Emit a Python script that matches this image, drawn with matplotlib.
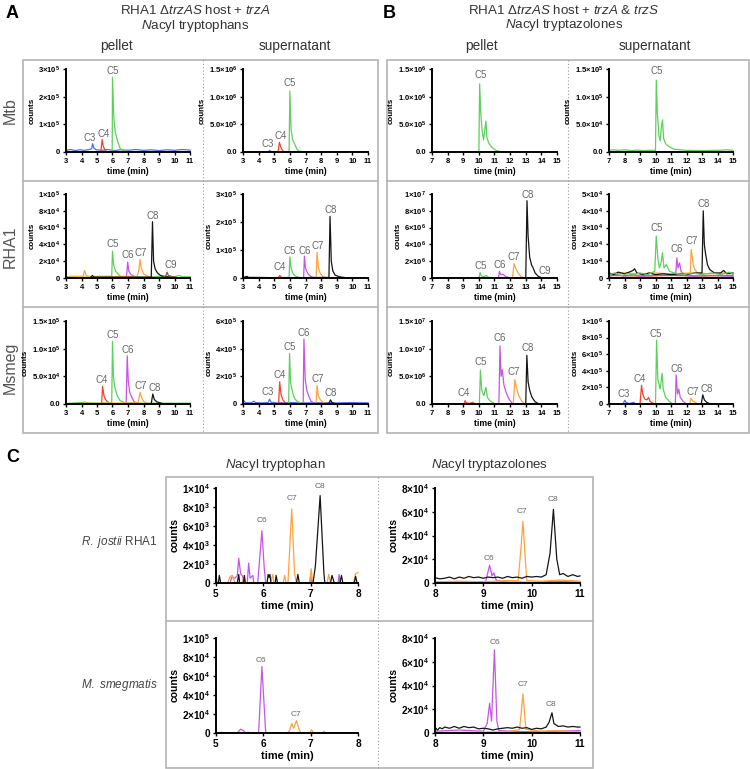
import matplotlib.pyplot as plt
from matplotlib.patches import Rectangle

plt.rcParams['font.family'] = ['Liberation Sans', 'DejaVu Sans']
plt.rcParams['mathtext.fontset'] = 'custom'
plt.rcParams['mathtext.rm'] = 'Liberation Sans'
plt.rcParams['mathtext.it'] = 'Liberation Sans:italic'
plt.rcParams['mathtext.bf'] = 'Liberation Sans:bold'

W, H = 750, 769

colors = {'C3': '#4f6bed', 'C4': '#f2412c', 'C5': '#5cd05c', 'C6': '#c655e6',
          'C7': '#ffa23f', 'C8': '#151515', 'C9': '#8b5e2b', 'red': '#f2412c'}

# ---------------- panel A : N-acyl tryptophans (time, counts) ----------------
A_mtb_pel = {
    'C3': [(3.0, 6e3), (3.3, 9e3), (3.6, 5e3), (3.9, 8e3), (4.2, 6e3), (4.5, 9e3), (4.65, 1.2e4), (4.72, 3.0e4),
           (4.8, 1.4e4), (4.95, 8e3), (5.3, 6e3), (5.7, 9e3), (6.1, 5e3), (6.5, 8e3), (7.0, 6e3), (7.5, 9e3),
           (8.0, 6e3), (8.5, 8e3), (9.0, 5e3), (9.5, 8e3), (10.0, 6e3), (10.5, 9e3), (11.0, 7e3)],
    'C4': [(5.25, 2e3), (5.33, 4.5e4), (5.4, 2.2e4), (5.5, 8e3), (5.6, 2e3)],
    'C5': [(5.9, 1e3), (5.98, 2e3), (6.0, 2.7e5), (6.08, 1.3e5), (6.18, 7e4), (6.28, 5e4), (6.35, 3.5e4),
           (6.5, 1.2e4), (6.7, 5e3), (7.0, 2e3)],
}
A_mtb_pel_lab = [('C3', 4.55, 3.3e4), ('C4', 5.45, 4.8e4), ('C5', 6.0, 2.75e5)]

A_mtb_sup = {
    'C3': [(3.0, 4e3), (3.5, 6e3), (4.0, 4e3), (4.5, 5e3), (4.65, 8e3), (4.7, 2.8e4), (4.8, 1e4), (5.0, 5e3),
           (5.5, 4e3), (6.5, 5e3), (7.5, 3e3), (8.5, 4e3), (9.5, 3e3), (10.5, 4e3), (11.0, 3e3)],
    'C4': [(5.25, 3e3), (5.33, 1.75e5), (5.42, 9e4), (5.5, 4e4), (5.6, 1e4), (5.7, 2e3)],
    'C5': [(5.95, 3e3), (6.0, 1.1e6), (6.08, 4e5), (6.18, 2.2e5), (6.28, 1.6e5), (6.35, 1.2e5), (6.45, 5e4),
           (6.6, 1.5e4), (6.9, 4e3)],
}
A_mtb_sup_lab = [('C3', 4.55, 6e4), ('C4', 5.4, 1.9e5), ('C5', 6.0, 1.15e6)]

A_rha_pel = {
    'C5': [(3.0, 1.5e3), (3.6, 2e3), (4.3, 1e3), (5.0, 2e3), (5.95, 2e3), (6.0, 3.2e4), (6.08, 1.5e4),
           (6.2, 8e3), (6.35, 5e3), (6.5, 2e3), (7.0, 1.5e3), (8.0, 1e3), (9.0, 2e3), (10.0, 1.5e3),
           (10.3, 3e3), (10.5, 1.5e3), (11.0, 1.5e3)],
    'C6': [(6.9, 1e3), (6.98, 1.9e4), (7.05, 8e3), (7.2, 4e3), (7.4, 2e3), (7.6, 1e3)],
    'C7': [(3.0, 1e3), (4.1, 2e3), (4.2, 9e3), (4.3, 3e3), (4.6, 1e3), (7.6, 2e3), (7.7, 1e4), (7.78, 2.2e4),
           (7.85, 1.2e4), (8.0, 5e3), (8.3, 2e3), (8.6, 1e3)],
    'C8': [(4.6, 1e3), (4.7, 3e3), (4.8, 1e3), (8.5, 1e3), (8.58, 6.7e4), (8.65, 2e4), (8.75, 1.1e4),
           (8.9, 6e3), (9.1, 3e3), (9.4, 1.5e3), (9.8, 1e3)],
    'C9': [(9.3, 1e3), (9.45, 3e3), (9.52, 7e3), (9.6, 3e3), (9.8, 2e3), (10.1, 1e3)],
}
A_rha_pel_lab = [('C5', 6.0, 3.4e4), ('C6', 7.0, 2.1e4), ('C7', 7.8, 2.4e4), ('C8', 8.6, 6.8e4), ('C9', 9.75, 9e3)]

A_rha_sup = {
    'C4': [(5.25, 1e3), (5.35, 9e3), (5.45, 3e3)],
    'C5': [(3.0, 2e3), (4.5, 1e3), (5.95, 2e3), (6.0, 7.5e4), (6.08, 3.5e4), (6.2, 1.5e4), (6.4, 5e3),
           (6.7, 1e3)],
    'C6': [(6.88, 2e3), (6.93, 7.8e4), (7.0, 3.5e4), (7.15, 1.5e4), (7.35, 5e3), (7.6, 1e3)],
    'C7': [(7.68, 2e3), (7.74, 9.2e4), (7.82, 4e4), (7.95, 1.5e4), (8.15, 4e3), (8.4, 1e3)],
    'C8': [(3.0, 1e3), (3.25, 6e3), (3.35, 2e3), (4.0, 2e3), (5.0, 1e3), (8.5, 2e3), (8.57, 2.2e5),
           (8.65, 6e4), (8.75, 2.5e4), (8.9, 1e4), (9.2, 4e3), (9.6, 1e3)],
}
A_rha_sup_lab = [('C4', 5.35, 2.2e4), ('C5', 6.0, 8e4), ('C6', 6.95, 8e4), ('C7', 7.75, 9.5e4), ('C8', 8.6, 2.25e5)]

A_msm_pel = {
    'C4': [(3.0, 500), (5.3, 1e3), (5.36, 3.2e4), (5.45, 1.5e4), (5.55, 8e3), (5.75, 2e3), (6.0, 500)],
    'C5': [(3.0, 1e3), (4.2, 3e3), (4.5, 2e3), (5.0, 1.5e3), (5.95, 2e3), (6.0, 1.13e5), (6.06, 5e4),
           (6.15, 3e4), (6.3, 1.5e4), (6.5, 6e3), (6.8, 2e3), (8.0, 1.5e3), (9.5, 1.5e3), (11.0, 1.5e3)],
    'C6': [(6.88, 1e3), (6.95, 8.7e4), (7.02, 4e4), (7.12, 2e4), (7.25, 1.2e4), (7.4, 4e3), (7.7, 1e3)],
    'C7': [(4.1, 1e3), (4.2, 4e3), (4.3, 1e3), (7.65, 2e3), (7.78, 2.1e4), (7.88, 1.2e4), (8.0, 5e3), (8.3, 1e3)],
    'C8': [(8.5, 1e3), (8.6, 1.8e4), (8.7, 8e3), (8.85, 4e3), (9.2, 1e3)],
}
A_msm_pel_lab = [('C4', 5.3, 3.5e4), ('C5', 6.0, 1.15e5), ('C6', 7.0, 8.9e4), ('C7', 7.8, 2.3e4), ('C8', 8.7, 2e4)]

A_msm_sup = {
    'C3': [(3.0, 1e4), (3.05, 2.5e4), (3.15, 1e4), (3.5, 8e3), (3.72, 2e4), (3.8, 1e4), (4.2, 8e3), (4.62, 1e4),
           (4.7, 3.5e4), (4.8, 1.2e4), (5.2, 8e3), (6.0, 1e4), (7.0, 8e3), (8.0, 1e4), (9.0, 8e3), (10.0, 1e4),
           (11.0, 8e3)],
    'C4': [(5.28, 1e4), (5.35, 1.6e5), (5.43, 7e4), (5.55, 3e4), (5.7, 1e4)],
    'C5': [(5.92, 1e4), (5.98, 3.65e5), (6.05, 1.5e5), (6.18, 8e4), (6.3, 4e4), (6.5, 1.5e4), (6.8, 5e3)],
    'C6': [(6.85, 1e4), (6.9, 4.7e5), (6.98, 1.8e5), (7.08, 1e5), (7.2, 6e4), (7.35, 2e4), (7.6, 5e3)],
    'C7': [(7.68, 1e4), (7.74, 1.35e5), (7.82, 6e4), (7.95, 3e4), (8.15, 1e4), (8.4, 3e3)],
    'C8': [(8.5, 5e3), (8.6, 3e4), (8.7, 1e4), (8.9, 3e3)],
}
A_msm_sup_lab = [('C3', 4.6, 5e4), ('C4', 5.35, 1.7e5), ('C5', 6.0, 3.75e5), ('C6', 6.9, 4.8e5),
                 ('C7', 7.8, 1.45e5), ('C8', 8.6, 4e4)]

# ---------------- panel B : N-acyl tryptazolones ----------------
B_mtb_pel = {
    'C5': [(10.0, 0), (10.05, 1.23e6), (10.12, 7e5), (10.22, 3.5e5), (10.3, 2.2e5), (10.38, 4e5), (10.45, 5.6e5),
           (10.52, 2.5e5), (10.65, 1.5e5), (10.85, 8e4), (11.1, 3e4), (11.4, 5e3), (11.7, 0)],
}
B_mtb_pel_lab = [('C5', 10.1, 1.3e6)]

B_mtb_sup = {
    'C5': [(7.0, 3e3), (7.3, 4e3), (7.6, 3e3), (8.0, 4e3), (8.4, 2.5e3), (8.8, 3.5e3), (9.2, 2.5e3), (9.6, 3e3),
           (10.0, 3e3), (10.05, 1.3e5), (10.12, 7e4), (10.22, 3e4), (10.3, 2e4), (10.38, 4.5e4), (10.45, 5.8e4),
           (10.52, 2.5e4), (10.65, 1.5e4), (10.85, 1e4), (11.2, 5e3), (12.0, 3e3), (13.0, 2.5e3), (14.0, 3e3),
           (14.6, 4e3), (15.0, 3e3)],
}
B_mtb_sup_lab = [('C5', 10.1, 1.37e5)]

B_rha_pel = {
    'C5': [(10.0, 0), (10.08, 6.5e5), (10.15, 2.5e5), (10.3, 1.5e5), (10.48, 3e5), (10.6, 1e5), (10.9, 0)],
    'C6': [(11.25, 0), (11.32, 8e5), (11.4, 4e5), (11.55, 4.5e5), (11.7, 2e5), (11.95, 0)],
    'C7': [(12.15, 0), (12.25, 1.7e6), (12.35, 1.2e6), (12.5, 6e5), (12.7, 1.5e5), (12.9, 0)],
    'C8': [(13.0, 0), (13.08, 9.2e6), (13.15, 5e6), (13.25, 2.5e6), (13.38, 1.5e6), (13.45, 1.3e6), (13.6, 6e5),
           (13.8, 2e5), (14.0, 5e4), (14.2, 0)],
}
B_rha_pel_lab = [('C5', 10.1, 8.5e5), ('C6', 11.35, 1e6), ('C7', 12.2, 1.9e6), ('C8', 13.1, 9.3e6),
                 ('C9', 14.2, 2e5)]

B_rha_sup = {
    'red': [(7.0, 1.5e3), (9.0, 1.2e3), (11.0, 1.5e3), (13.0, 1.2e3), (15.0, 1.5e3)],
    'C6': [(7.0, 1e3), (7.5, 2e3), (8.0, 1e3), (8.5, 2e3), (9.0, 1e3), (10.0, 1.5e3), (11.3, 2e3), (11.38, 1.2e4),
           (11.45, 6e3), (11.55, 9e3), (11.65, 4e3), (11.9, 1.5e3), (12.5, 1e3), (13.5, 1.5e3), (15.0, 1e3)],
    'C7': [(7.0, 2.5e3), (8.0, 3e3), (9.0, 2.5e3), (10.0, 3e3), (11.0, 2.5e3), (12.25, 3e3), (12.3, 1.7e4),
           (12.38, 1.2e4), (12.45, 7e3), (12.55, 5e3), (12.7, 3e3), (13.5, 2.5e3), (14.5, 3e3), (15.0, 2.5e3)],
    'C8': [(7.0, 3e3), (7.3, 2e3), (7.6, 3.5e3), (8.0, 2.5e3), (8.3, 3.5e3), (8.55, 4.5e3), (8.65, 5.5e3),
           (8.8, 3e3), (9.2, 2e3), (9.6, 3e3), (10.0, 2e3), (10.5, 2.5e3), (11.0, 2e3), (11.5, 2.5e3), (12.0, 2e3),
           (12.5, 3e3), (13.0, 3e3), (13.08, 4e4), (13.15, 2e4), (13.22, 1.5e4), (13.35, 8e3), (13.5, 5e3),
           (13.8, 3e3), (14.2, 3e3), (14.4, 4.5e3), (14.6, 2.5e3), (15.0, 3e3)],
    'C5': [(7.0, 2e3), (7.4, 3e3), (7.8, 1.5e3), (8.2, 2.5e3), (8.6, 2e3), (9.0, 3e3), (9.5, 2e3), (9.95, 4e3),
           (10.05, 2.5e4), (10.15, 1.2e4), (10.25, 6e3), (10.38, 1e4), (10.45, 1.5e4), (10.55, 6e3), (10.7, 8e3),
           (10.9, 4e3), (11.2, 3e3), (11.8, 2e3), (12.4, 3e3), (13.0, 2e3), (13.6, 3e3), (14.2, 2e3),
           (14.8, 3.5e3), (15.0, 2e3)],
}
B_rha_sup_lab = [('C5', 10.1, 2.7e4), ('C6', 11.4, 1.4e4), ('C7', 12.35, 1.9e4), ('C8', 13.1, 4.1e4)]

B_msm_pel = {
    'C4': [(9.05, 0), (9.12, 6e5), (9.2, 2e5), (9.4, 1e5), (9.6, 3e5), (9.7, 1e5), (9.9, 0)],
    'C5': [(10.03, 0), (10.1, 6.1e6), (10.18, 2.5e6), (10.32, 1.5e6), (10.45, 3e6), (10.55, 1.2e6), (10.7, 6e5),
           (10.9, 2e5), (11.1, 0)],
    'C6': [(11.28, 0), (11.35, 1.05e7), (11.42, 5e6), (11.5, 6.2e6), (11.6, 3.5e6), (11.75, 2e6), (11.95, 8e5),
           (12.15, 1e5), (12.3, 0)],
    'C7': [(12.2, 0), (12.3, 4.4e6), (12.4, 3e6), (12.55, 1.5e6), (12.75, 5e5), (12.95, 0)],
    'C8': [(13.0, 0), (13.07, 8.8e6), (13.15, 4e6), (13.25, 2.5e6), (13.4, 1.2e6), (13.6, 4e5), (13.85, 0)],
}
B_msm_pel_lab = [('C4', 9.0, 1e6), ('C5', 10.1, 6.6e6), ('C6', 11.35, 1.1e7), ('C7', 12.25, 4.9e6),
                 ('C8', 13.1, 9.3e6)]

B_msm_sup = {
    'C3': [(7.9, 0), (8.02, 4.5e4), (8.1, 2e4), (8.3, 5e3), (8.6, 2e4), (8.7, 5e3), (8.9, 0)],
    'C4': [(9.0, 0), (9.1, 2.25e5), (9.18, 1.2e5), (9.3, 6e4), (9.45, 5e4), (9.55, 8e4), (9.65, 3e4), (9.85, 1e4),
           (10.0, 0)],
    'C5': [(10.0, 0), (10.07, 7.7e5), (10.15, 3e5), (10.3, 1.8e5), (10.42, 3.7e5), (10.5, 1.8e5), (10.65, 8e4),
           (10.9, 3e4), (11.1, 0)],
    'C6': [(11.28, 0), (11.33, 3.5e5), (11.42, 1.2e5), (11.5, 1.8e5), (11.6, 8e4), (11.8, 3e4), (12.0, 0)],
    'C7': [(12.2, 0), (12.28, 7e4), (12.38, 4e4), (12.55, 2e4), (12.75, 0)],
    'C8': [(12.95, 0), (13.05, 1.1e5), (13.15, 5e4), (13.3, 2e4), (13.5, 5e3), (13.7, 0)],
}
B_msm_sup_lab = [('C3', 7.95, 6e4), ('C4', 9.0, 2.4e5), ('C5', 10.0, 7.8e5), ('C6', 11.4, 3.6e5),
                 ('C7', 12.4, 8e4), ('C8', 13.3, 1.2e5)]

# ---------------- panel C ----------------
C_rha_trp = {
    'C6': [(5.0, 0), (5.3, 0), (5.33, 600), (5.4, 500), (5.45, 800), (5.48, 2600), (5.52, 1000), (5.56, 700),
           (5.6, 0), (5.66, 0), (5.69, 2100), (5.72, 500), (5.78, 800), (5.8, 0), (5.88, 0), (5.93, 3000),
           (5.97, 5500), (6.02, 1500), (6.05, 0), (6.98, 0), (7.0, 800), (7.02, 0), (7.58, 0), (7.6, 900),
           (7.62, 0), (8.0, 0)],
    'C7': [(5.0, 800), (5.03, 0), (5.25, 0), (5.3, 700), (5.35, 800), (5.4, 0), (5.55, 0), (5.58, 600), (5.6, 0),
           (6.15, 0), (6.2, 900), (6.22, 0), (6.42, 0), (6.45, 800), (6.48, 0), (6.52, 0), (6.6, 7800),
           (6.66, 1000), (6.7, 0), (6.98, 0), (7.01, 1500), (7.04, 0), (7.35, 0), (7.38, 900), (7.42, 0),
           (7.9, 0), (7.95, 1000), (8.0, 1100)],
    'C8': [(5.05, 0), (5.07, 800), (5.1, 0), (5.45, 0), (5.48, 900), (5.5, 0), (5.58, 0), (5.6, 800), (5.62, 0),
           (6.08, 0), (6.1, 900), (6.12, 600), (6.14, 900), (6.16, 0), (6.25, 0), (6.27, 800), (6.3, 0),
           (6.7, 0), (6.73, 900), (6.76, 0), (7.05, 0), (7.1, 1800), (7.2, 9200), (7.28, 1000), (7.3, 0),
           (7.42, 0), (7.45, 800), (7.5, 0), (7.62, 0), (7.65, 800), (7.68, 0), (7.92, 0), (7.95, 700),
           (7.98, 0)],
}
C_rha_trp_lab = [('C6', 5.98, 6.2e3), ('C7', 6.6, 8.5e3), ('C8', 7.2, 9.8e3)]

C_rha_tzl = {
    'red': [(8.0, 300), (9.5, 400), (11.0, 300)],
    'C6': [(8.0, 500), (8.6, 800), (9.05, 1000), (9.1, 1e4), (9.13, 1.5e4), (9.18, 6e3), (9.22, 8.5e3),
           (9.27, 2e3), (9.5, 800), (10.0, 500), (10.5, 1.5e3), (10.8, 1e3), (11.0, 800)],
    'C7': [(8.0, 1e3), (8.5, 1.5e3), (9.0, 1e3), (9.5, 2e3), (9.72, 2e3), (9.78, 3e4), (9.82, 5.2e4),
           (9.86, 2.5e4), (9.9, 2e3), (10.2, 1.5e3), (10.6, 2.5e3), (11.0, 1.5e3)],
    'C8': [(8.0, 4500), (8.1, 3500), (8.2, 4000), (8.3, 5000), (8.4, 3500), (8.5, 5000), (8.6, 4000),
           (8.7, 5500), (8.8, 4500), (8.9, 5000), (9.0, 4000), (9.1, 5000), (9.2, 4500), (9.3, 5000),
           (9.4, 4000), (9.5, 5500), (9.6, 4500), (9.7, 5000), (9.8, 4000), (9.9, 5500), (10.0, 5000),
           (10.1, 5500), (10.2, 5000), (10.3, 7000), (10.38, 2.5e4), (10.45, 6.2e4), (10.52, 2e4), (10.58, 7000),
           (10.65, 8000), (10.75, 5500), (10.85, 7000), (10.95, 5500), (11.0, 6000)],
}
C_rha_tzl_lab = [('C6', 9.12, 1.8e4), ('C7', 9.8, 5.7e4), ('C8', 10.45, 6.7e4)]

C_msm_trp = {
    'C6': [(5.0, 500), (5.1, 0), (5.12, 800), (5.2, 0), (5.45, 0), (5.52, 4000), (5.58, 2500), (5.62, 0),
           (5.68, 800), (5.72, 0), (5.9, 0), (5.97, 7e4), (6.05, 0), (8.0, 0)],
    'C7': [(6.5, 0), (6.55, 2000), (6.6, 1e4), (6.64, 5000), (6.7, 1.3e4), (6.76, 3000), (6.8, 0), (6.98, 0),
           (7.02, 3500), (7.06, 0), (7.25, 0), (7.28, 2000), (7.31, 0)],
}
C_msm_trp_lab = [('C6', 5.95, 7.3e4), ('C7', 6.68, 1.6e4)]

C_msm_tzl = {
    'red': [(8.0, 200), (9.5, 300), (11.0, 200)],
    'C6': [(8.0, 1500), (8.5, 2500), (9.0, 1500), (9.08, 8000), (9.13, 2.5e4), (9.17, 1e4), (9.23, 7e4),
           (9.28, 1e4), (9.32, 2000), (9.6, 1500), (10.0, 1000), (10.5, 1500), (11.0, 2000)],
    'C7': [(8.0, 500), (9.0, 800), (9.5, 1000), (9.75, 3000), (9.82, 3.3e4), (9.88, 3000), (10.2, 1500),
           (10.5, 2000), (11.0, 1000)],
    'C8': [(8.0, 5000), (8.05, 2500), (8.1, 4500), (8.15, 3500), (8.2, 5000), (8.3, 4000), (8.4, 5500),
           (8.5, 4000), (8.6, 5500), (8.7, 4500), (8.8, 5000), (8.9, 3500), (9.0, 4000), (9.1, 3500),
           (9.2, 2500), (9.3, 3500), (9.4, 4000), (9.5, 4500), (9.6, 4000), (9.7, 5000), (9.8, 4000),
           (9.9, 4500), (10.0, 3000), (10.1, 4000), (10.2, 3500), (10.3, 5000), (10.36, 9000), (10.42, 1.7e4),
           (10.46, 8000), (10.55, 5500), (10.65, 6000), (10.75, 5000), (10.85, 5500), (10.95, 5000), (11.0, 5000)],
}
C_msm_tzl_lab = [('C6', 9.23, 7.3e4), ('C7', 9.82, 3.8e4), ('C8', 10.4, 2.1e4)]


def sci(v, dec):
    # prism-style "3×10^5" labels
    if v == 0:
        return '0.0' if dec else '0'
    e = len(str(int(v))) - 1
    m = v / 10 ** e
    mtxt = ('%.1f' % m) if dec else ('%d' % round(m))
    return r'$\mathbf{%s{\times}10^{%d}}$' % (mtxt, e)


fig = plt.figure(figsize=(W / 100, H / 100), dpi=100)

# background frame / layout in pixel units
ov = fig.add_axes([0, 0, 1, 1])
ov.set_xlim(0, W)
ov.set_ylim(H, 0)
ov.axis('off')
box_c = '#b3b3b3'
for (x0, y0, x1, y1) in [(23, 60, 378, 433), (387, 60, 749, 433), (166, 477, 593, 768)]:
    ov.add_patch(Rectangle((x0, y0), x1 - x0, y1 - y0, fill=False, ec=box_c, lw=1.2))
for (x0, x1) in [(23, 378), (387, 749)]:
    for y in (181, 307):
        ov.plot([x0, x1], [y, y], color=box_c, lw=1.2)
ov.plot([166, 593], [621, 621], color=box_c, lw=1.2)
for (x, y0, y1) in [(203, 60, 433), (568, 60, 433), (378, 477, 768)]:
    ov.plot([x, x], [y0, y1], color='#9a9a9a', lw=0.8, ls=(0, (1, 2)))

txt_c = '#333333'
ov.text(6, 13, 'A', fontsize=13, fontweight='bold', va='center', ha='left')
ov.text(383, 13, 'B', fontsize=13, fontweight='bold', va='center', ha='left')
ov.text(6, 457, 'C', fontsize=13, fontweight='bold', va='center', ha='left')
ov.text(195, 10, r'RHA1 Δ$\mathit{trzAS}$ host + $\mathit{trzA}$', fontsize=9.6, ha='center', va='center',
        color=txt_c)
ov.text(195, 26, r'$\mathit{N}$acyl tryptophans', fontsize=9.6, ha='center', va='center', color=txt_c)
ov.text(564, 10, r'RHA1 Δ$\mathit{trzAS}$ host + $\mathit{trzA}$ & $\mathit{trzS}$', fontsize=9.6, ha='center',
        va='center', color=txt_c)
ov.text(564, 25, r'$\mathit{N}$acyl tryptazolones', fontsize=9.6, ha='center', va='center', color=txt_c)
for x, s in [(116, 'pellet'), (295, 'supernatant'), (481, 'pellet'), (655, 'supernatant')]:
    ov.text(x, 46, s, fontsize=9.8, ha='center', va='center', color=txt_c)
for y, s in [(111, 'Mtb'), (247, 'RHA1'), (368, 'Msmeg')]:
    ov.text(10, y, s, fontsize=11.5, rotation=90, ha='center', va='center', color='#555555')
ov.text(275, 465, r'$\mathit{N}$acyl tryptophan', fontsize=9.5, ha='center', va='center', color=txt_c)
ov.text(490, 465, r'$\mathit{N}$acyl tryptazolones', fontsize=9.5, ha='center', va='center', color=txt_c)
ov.text(158, 542, r'$\mathit{R.\ jostii}$ RHA1', fontsize=8.5, ha='right', va='center', color='#444444')
ov.text(158, 685, r'$\mathit{M.\ smegmatis}$', fontsize=8.5, ha='right', va='center', color='#444444')


def chrom(rect, traces, labels, xlim, ymax, ystep, dec, fs=5.5, lab_fs=7):
    x0, y0, x1, y1 = rect
    ax = fig.add_axes([x0 / W, 1 - y1 / H, (x1 - x0) / W, (y1 - y0) / H])
    for key, pts in traces.items():
        ax.plot([p[0] for p in pts], [p[1] for p in pts], color=colors[key], lw=0.9, clip_on=False)
    for s, x, y in labels:
        ax.text(x, y, s, fontsize=lab_fs, color='#666666', ha='center', va='bottom')
    ax.set_xlim(*xlim)
    ax.set_ylim(0, ymax)
    ax.set_xticks(range(xlim[0], xlim[1] + 1))
    yt = [ystep * i for i in range(int(round(ymax / ystep)) + 1)]
    ax.set_yticks(yt)
    ax.set_yticklabels([sci(v, dec) for v in yt])
    for sp in ('top', 'right'):
        ax.spines[sp].set_visible(False)
    for sp in ('left', 'bottom'):
        ax.spines[sp].set_linewidth(1.4)
    ax.tick_params(direction='out', length=2.5, width=1, labelsize=fs, pad=1.5)
    for t in ax.get_xticklabels() + ax.get_yticklabels():
        t.set_fontweight('bold')
    ax.set_xlabel('time (min)', fontsize=fs + 0.7, fontweight='bold', labelpad=2)
    ax.set_ylabel('counts', fontsize=fs + 0.3, fontweight='bold', labelpad=2)
    ax.patch.set_alpha(0)
    return ax


rows = [(69, 152), (194, 278), (321, 404)]
chrom((66, rows[0][0], 190, rows[0][1]), A_mtb_pel, A_mtb_pel_lab, (3, 11), 3e5, 1e5, False)
chrom((243, rows[0][0], 368, rows[0][1]), A_mtb_sup, A_mtb_sup_lab, (3, 11), 1.5e6, 5e5, True)
chrom((66, rows[1][0], 190, rows[1][1]), A_rha_pel, A_rha_pel_lab, (3, 11), 1e5, 2e4, False)
chrom((243, rows[1][0], 368, rows[1][1]), A_rha_sup, A_rha_sup_lab, (3, 11), 3e5, 1e5, False)
chrom((66, rows[2][0], 190, rows[2][1]), A_msm_pel, A_msm_pel_lab, (3, 11), 1.5e5, 5e4, True)
chrom((243, rows[2][0], 368, rows[2][1]), A_msm_sup, A_msm_sup_lab, (3, 11), 6e5, 2e5, False)

chrom((432, rows[0][0], 557, rows[0][1]), B_mtb_pel, B_mtb_pel_lab, (7, 15), 1.5e6, 5e5, True)
chrom((609, rows[0][0], 733, rows[0][1]), B_mtb_sup, B_mtb_sup_lab, (7, 15), 1.5e5, 5e4, True)
chrom((432, rows[1][0], 557, rows[1][1]), B_rha_pel, B_rha_pel_lab, (7, 15), 1e7, 2e6, False)
chrom((609, rows[1][0], 733, rows[1][1]), B_rha_sup, B_rha_sup_lab, (7, 15), 5e4, 1e4, False)
chrom((432, rows[2][0], 557, rows[2][1]), B_msm_pel, B_msm_pel_lab, (7, 15), 1.5e7, 5e6, True)
chrom((609, rows[2][0], 733, rows[2][1]), B_msm_sup, B_msm_sup_lab, (7, 15), 1e6, 2e5, False)

chrom((216, 488, 358, 583), C_rha_trp, C_rha_trp_lab, (5, 8), 1e4, 2e3, False, fs=7.2, lab_fs=6)
chrom((435, 488, 580, 583), C_rha_tzl, C_rha_tzl_lab, (8, 11), 8e4, 2e4, False, fs=7.2, lab_fs=6)
chrom((216, 638, 358, 733), C_msm_trp, C_msm_trp_lab, (5, 8), 1e5, 2e4, False, fs=7.2, lab_fs=6)
chrom((435, 638, 580, 733), C_msm_tzl, C_msm_tzl_lab, (8, 11), 8e4, 2e4, False, fs=7.2, lab_fs=6)

fig.savefig('out.png', dpi=100)
